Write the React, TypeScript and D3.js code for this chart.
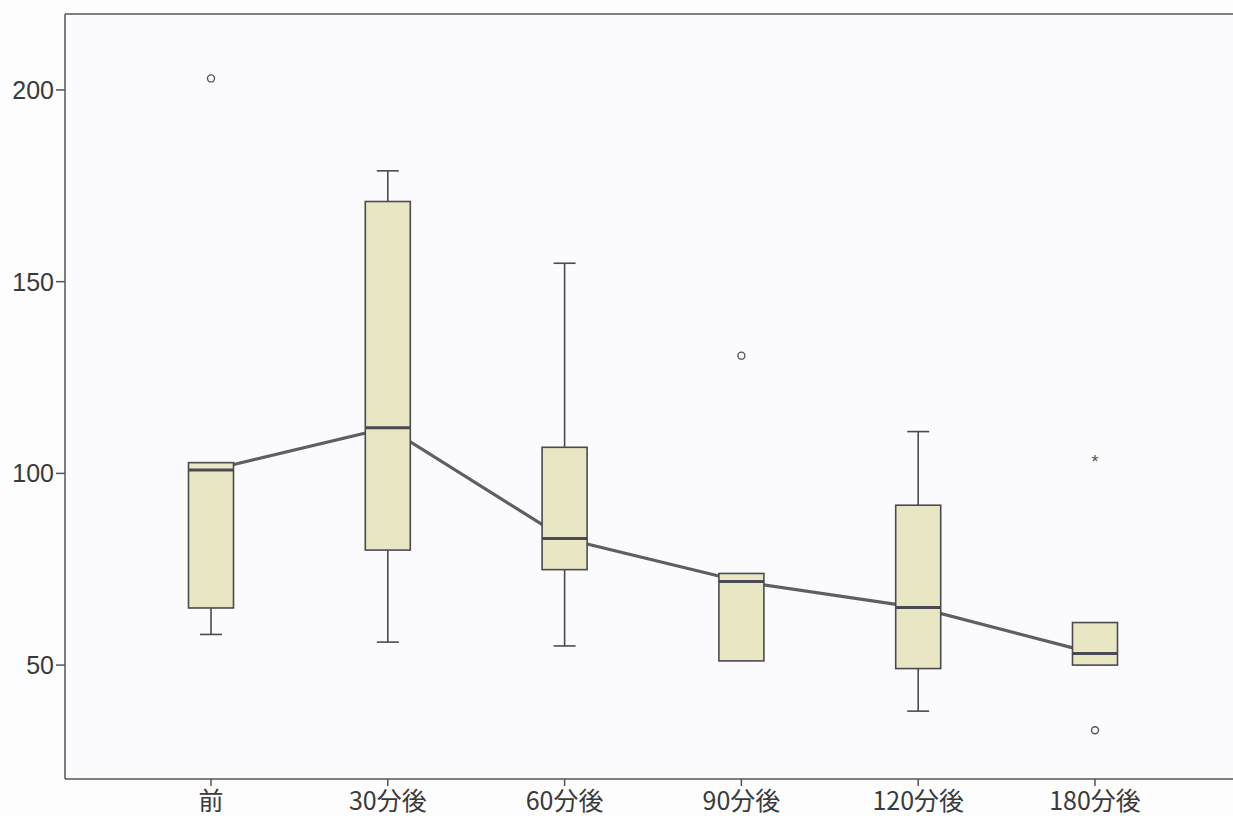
import React from "react";
import * as d3 from "d3";

const categories = ["前", "30分後", "60分後", "90分後", "120分後", "180分後"];
const whiskerLow = [58, 56, 55, 51.1, 38, 50];
const q1 = [64.9, 80, 74.9, 51.1, 49.1, 50];
const median = [100.9, 111.9, 83, 71.8, 65, 53];
const q3 = [102.8, 170.9, 106.8, 73.9, 91.7, 61.1];
const whiskerHigh = [102.8, 178.9, 154.8, 73.9, 110.9, 61.1];
const outlierCircles = [
  { cat: "前", value: 203 },
  { cat: "90分後", value: 130.7 },
  { cat: "180分後", value: 33 },
];
const outlierStars = [{ cat: "180分後", value: 104.8 }];
const yTicks = [50, 100, 150, 200];

const W = 1233;
const H = 816;
const left = 65;
const top = 14;
const bottom = 779;

export default function App() {
  const y = d3.scaleLinear().domain([20.3, 219.8]).range([bottom, top]);
  const step = 176.8;
  const x = d3
    .scalePoint<string>()
    .domain(categories)
    .range([211, 211 + step * (categories.length - 1)]);
  const boxW = 45;
  const capW = 22;
  const stroke = "#4a4a50";
  const fill = "#e9e6c4";

  const line = d3
    .line<number>()
    .x((_, i) => x(categories[i])!)
    .y((d) => y(d));

  return (
    <svg
      width={W}
      height={H}
      style={{ position: "absolute", left: 0, top: 0, background: "#fdfdfd" }}
    >
      <rect x={left} y={top} width={W - left} height={bottom - top} fill="#fbfbfd" />
      {/* frame */}
      <line x1={left} x2={W} y1={top} y2={top} stroke="#555" strokeWidth={1.5} />
      <line x1={left} x2={left} y1={top} y2={bottom} stroke="#555" strokeWidth={1.5} />
      <line x1={left} x2={W} y1={bottom} y2={bottom} stroke="#555" strokeWidth={1.5} />
      {/* y axis */}
      {yTicks.map((t) => (
        <g key={t}>
          <line x1={left - 9} x2={left} y1={y(t)} y2={y(t)} stroke="#555" strokeWidth={1.5} />
          <text
            x={left - 11}
            y={y(t)}
            dy="0.36em"
            textAnchor="end"
            fontFamily="Liberation Sans, Arial, sans-serif"
            fontSize={25}
            fill="#3a3a3a"
          >
            {t}
          </text>
        </g>
      ))}
      {/* x axis */}
      {categories.map((c) => (
        <g key={c}>
          <line x1={x(c)} x2={x(c)} y1={bottom} y2={bottom + 7} stroke="#555" strokeWidth={1.5} />
          <text
            x={x(c)}
            y={bottom + 31}
            textAnchor="middle"
            fontFamily="Noto Sans CJK JP, sans-serif"
            fontSize={25}
            fill="#3a3a3a"
          >
            {c}
          </text>
        </g>
      ))}
      {/* median connecting line */}
      <path d={line(median) || ""} fill="none" stroke="#5e5e66" strokeWidth={3.2} />
      {/* boxes */}
      {categories.map((c, i) => {
        const cx = x(c)!;
        return (
          <g key={c}>
            {whiskerHigh[i] > q3[i] && (
              <>
                <line x1={cx} x2={cx} y1={y(q3[i])} y2={y(whiskerHigh[i])} stroke={stroke} strokeWidth={1.6} />
                <line x1={cx - capW / 2} x2={cx + capW / 2} y1={y(whiskerHigh[i])} y2={y(whiskerHigh[i])} stroke={stroke} strokeWidth={1.6} />
              </>
            )}
            {whiskerLow[i] < q1[i] && (
              <>
                <line x1={cx} x2={cx} y1={y(q1[i])} y2={y(whiskerLow[i])} stroke={stroke} strokeWidth={1.6} />
                <line x1={cx - capW / 2} x2={cx + capW / 2} y1={y(whiskerLow[i])} y2={y(whiskerLow[i])} stroke={stroke} strokeWidth={1.6} />
              </>
            )}
            <rect
              x={cx - boxW / 2}
              y={y(q3[i])}
              width={boxW}
              height={y(q1[i]) - y(q3[i])}
              fill={fill}
              stroke={stroke}
              strokeWidth={1.6}
            />
            <line
              x1={cx - boxW / 2}
              x2={cx + boxW / 2}
              y1={y(median[i])}
              y2={y(median[i])}
              stroke="#4a4a52"
              strokeWidth={3}
            />
          </g>
        );
      })}
      {/* outliers */}
      {outlierCircles.map((o, i) => (
        <circle key={i} cx={x(o.cat)} cy={y(o.value)} r={3.5} fill="none" stroke="#555" strokeWidth={1.4} />
      ))}
      {outlierStars.map((o, i) => (
        <text
          key={i}
          x={x(o.cat)}
          y={y(o.value)}
          dy="0.7em"
          textAnchor="middle"
          fontFamily="Liberation Sans, Arial, sans-serif"
          fontSize={18}
          fill="#555"
        >
          *
        </text>
      ))}
    </svg>
  );
}
